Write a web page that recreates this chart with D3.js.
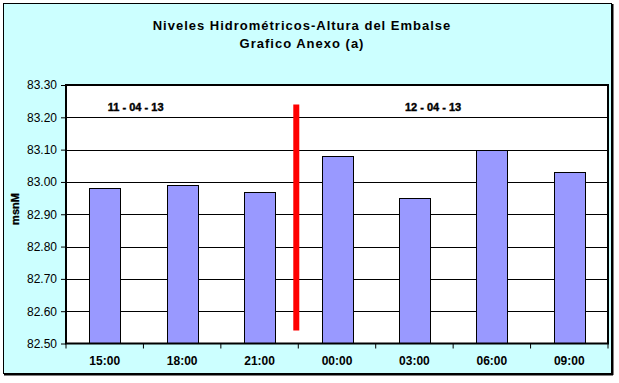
<!DOCTYPE html>
<html><head><meta charset="utf-8">
<script src="https://cdnjs.cloudflare.com/ajax/libs/d3/7.8.5/d3.min.js"></script>
<style>body{margin:0;background:#fff}svg{display:block;font-family:"Liberation Sans",Arial,sans-serif}</style>
</head><body>
<script>
const categories = ["15:00","18:00","21:00","00:00","03:00","06:00","09:00"];
const values = [82.98, 82.99, 82.97, 83.08, 82.95, 83.10, 83.03];
const yTicks = [82.5,82.6,82.7,82.8,82.9,83.0,83.1,83.2,83.3];
const dateLabels = ["11 - 04 - 13", "12 - 04 - 13"];
const dividerAfter = "21:00";
const dividerRange = [82.54, 83.24];

const W=619,H=383;
const svg=d3.select("body").append("svg").attr("width",W).attr("height",H);
// outer frame
svg.append("rect").attr("x",3.5).attr("y",3.5).attr("width",608).attr("height",370).attr("fill","#CCFFFF").attr("stroke","#000").attr("stroke-width",1);
svg.append("line").attr("x1",612.5).attr("x2",612.5).attr("y1",4).attr("y2",375).attr("stroke","#000").attr("stroke-width",2);
svg.append("line").attr("x1",4).attr("x2",613).attr("y1",374.5).attr("y2",374.5).attr("stroke","#000").attr("stroke-width",2);

const m={l:66,r:608,t:85,b:343.5};
const x=d3.scaleBand().domain(categories).range([m.l,m.r]).padding(0);
const y=d3.scaleLinear().domain([82.5,83.3]).range([m.b,m.t]);

svg.append("rect").attr("x",m.l).attr("y",m.t).attr("width",m.r-m.l).attr("height",m.b-m.t).attr("fill","#fff");

// gridlines
svg.append("g").selectAll("line").data(yTicks.slice(1,-1)).join("line")
 .attr("x1",m.l).attr("x2",m.r).attr("y1",d=>Math.round(y(d))+0.5).attr("y2",d=>Math.round(y(d))+0.5)
 .attr("stroke","#000").attr("stroke-width",1);

// bars
const bw=x.bandwidth()*0.4;
svg.append("g").selectAll("rect").data(values).join("rect")
 .attr("x",(d,i)=>Math.round(x(categories[i])+x.bandwidth()/2-bw/2)+0.5)
 .attr("y",d=>Math.round(y(d))+0.5)
 .attr("width",Math.round(bw))
 .attr("height",d=>m.b-Math.round(y(d))-0.5)
 .attr("fill","#9999FF").attr("stroke","#000").attr("stroke-width",1);

// plot border
svg.append("rect").attr("x",m.l).attr("y",m.t).attr("width",m.r-m.l).attr("height",m.b-m.t).attr("fill","none").attr("stroke","#000").attr("stroke-width",2);

// red divider
const dx=x(dividerAfter)+x.bandwidth()-2;
svg.append("line").attr("x1",dx).attr("x2",dx).attr("y1",y(dividerRange[1])).attr("y2",y(dividerRange[0]))
 .attr("stroke","#FF0000").attr("stroke-width",6);

// y axis
const ya=svg.append("g").attr("transform",`translate(${m.l},0)`)
 .call(d3.axisLeft(y).tickValues(yTicks).tickFormat(d3.format(".2f")).tickSize(5).tickPadding(4));
ya.select(".domain").remove();
ya.selectAll("line").attr("stroke","#000");
ya.selectAll("text").attr("font-size",12).attr("font-family","Liberation Sans, Arial").attr("fill","#000");

// x axis
const xa=svg.append("g").attr("transform",`translate(0,${m.b})`);
xa.selectAll("line").data(d3.range(categories.length+1)).join("line")
 .attr("x1",i=>m.l+i*x.step()).attr("x2",i=>m.l+i*x.step()).attr("y1",0).attr("y2",5).attr("stroke","#000");
xa.selectAll("text").data(categories).join("text")
 .attr("x",d=>x(d)+x.bandwidth()/2).attr("y",21).attr("text-anchor","middle")
 .attr("font-size",12).attr("font-weight","bold").text(d=>d);

// date labels (positioned in category-step units)
const dlPos=[0.9, 4.74];
svg.selectAll(".dl").data(dateLabels).join("text").attr("class","dl")
 .attr("x",(d,i)=>m.l+dlPos[i]*x.step()).attr("y",111).attr("text-anchor","middle")
 .attr("font-size",11).attr("font-weight","bold").attr("stroke","#000").attr("stroke-width",0.4).text(d=>d);

// y label
svg.append("text").attr("transform","translate(19,209) rotate(-90)").attr("text-anchor","middle")
 .attr("font-size",11).attr("font-weight","bold").attr("stroke","#000").attr("stroke-width",0.3).text("msnM");

// title
svg.append("text").attr("x",302).attr("y",30).attr("text-anchor","middle").attr("font-size",13).attr("letter-spacing",1).attr("font-weight","bold").text("Niveles Hidrométricos-Altura del Embalse");
svg.append("text").attr("x",302).attr("y",48).attr("text-anchor","middle").attr("font-size",13).attr("letter-spacing",1).attr("font-weight","bold").text("Grafico Anexo (a)");
</script>
</body></html>
